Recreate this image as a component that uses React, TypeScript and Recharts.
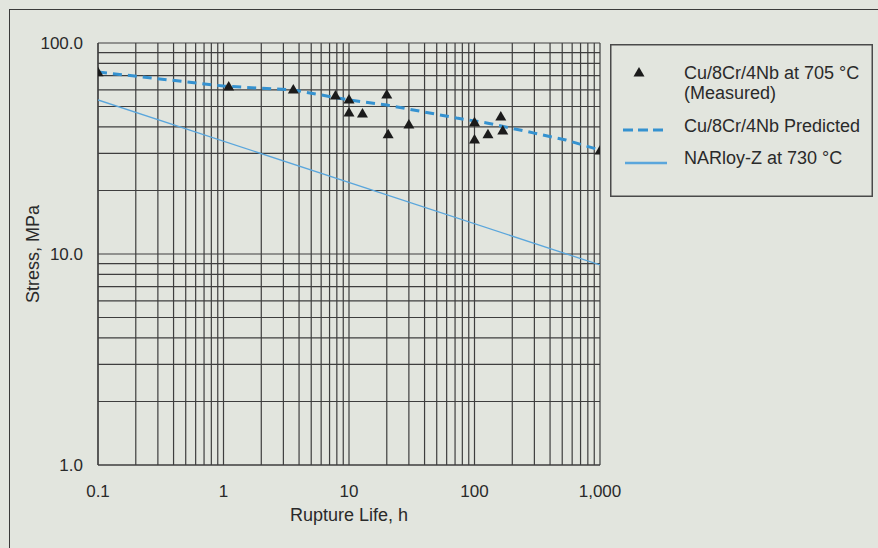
import React from 'react';
import { ScatterChart, Scatter, XAxis, YAxis, CartesianGrid } from 'recharts';

const measured = [
  { x: 0.1, y: 73 },
  { x: 1.1, y: 62.5 },
  { x: 3.6, y: 60.5 },
  { x: 7.8, y: 56.7 },
  { x: 10, y: 54.3 },
  { x: 10, y: 47.1 },
  { x: 12.8, y: 46.6 },
  { x: 20, y: 57.3 },
  { x: 20.5, y: 37.1 },
  { x: 30, y: 41.3 },
  { x: 100, y: 42.3 },
  { x: 100, y: 35.1 },
  { x: 128, y: 37.1 },
  { x: 162, y: 45.1 },
  { x: 168, y: 38.7 },
  { x: 1000, y: 31.1 },
];

const predicted = [
  { x: 0.1, y: 72.9 },
  { x: 1, y: 62.5 },
  { x: 3.6, y: 59.9 },
  { x: 10, y: 53.7 },
  { x: 20, y: 50.8 },
  { x: 30, y: 48.6 },
  { x: 72, y: 44.1 },
  { x: 125, y: 41.8 },
  { x: 300, y: 37.4 },
  { x: 535, y: 34.7 },
  { x: 1000, y: 31.1 },
];

const narloy = [
  { x: 0.1, y: 53.7 },
  { x: 1000, y: 8.87 },
];

const xTicks = [
  0.1, 0.2, 0.3, 0.4, 0.5, 0.6, 0.7, 0.8, 0.9,
  1, 2, 3, 4, 5, 6, 7, 8, 9,
  10, 20, 30, 40, 50, 60, 70, 80, 90,
  100, 200, 300, 400, 500, 600, 700, 800, 900,
  1000,
];
const xLabels: Record<string, string> = { '0.1': '0.1', '1': '1', '10': '10', '100': '100', '1000': '1,000' };

const yTicks = [1, 2, 3, 4, 5, 6, 7, 8, 9, 10, 20, 30, 40, 50, 60, 70, 80, 90, 100];
const yLabels: Record<string, string> = { '1': '1.0', '10': '10.0', '100': '100.0' };

const seriesNames = ['Cu/8Cr/4Nb at 705 °C', '(Measured)', 'Cu/8Cr/4Nb Predicted', 'NARloy-Z at 730 °C'];

const BG = '#e2e5de';
const GRID = '#3e3e3e';
const TEXT = '#2a2a2a';
const PRED = '#3592d0';
const NAR = '#5aa6dc';
const FONT = '"Liberation Sans", Arial, Helvetica, sans-serif';

const Triangle = (props: any) => {
  const { cx, cy } = props;
  if (cx == null || cy == null) return <g />;
  return <path d={`M${cx},${cy - 5} L${cx + 5.5},${cy + 4.5} L${cx - 5.5},${cy + 4.5} Z`} fill="#1b1b1b" />;
};

const NoShape = () => <g />;

const LegendBox = () => (
  <svg width={263} height={153} style={{ display: 'block' }}>
    <rect x={0.75} y={0.75} width={261.5} height={151.5} fill={BG} stroke="#4a4a4a" strokeWidth={1.5} />
    <path d="M29,23 L34.5,32.5 L23.5,32.5 Z" fill="#1b1b1b" />
    <text x={74} y={29} fontSize={18} fill={TEXT} fontFamily={FONT} dominantBaseline="central">{seriesNames[0]}</text>
    <text x={74} y={49} fontSize={18} fill={TEXT} fontFamily={FONT} dominantBaseline="central">{seriesNames[1]}</text>
    <line x1={13} x2={57} y1={86} y2={86} stroke={PRED} strokeWidth={3} strokeDasharray="10 5" />
    <text x={74} y={82} fontSize={18} fill={TEXT} fontFamily={FONT} dominantBaseline="central">{seriesNames[2]}</text>
    <line x1={15} x2={57} y1={119} y2={119} stroke={NAR} strokeWidth={2.5} />
    <text x={74} y={114} fontSize={18} fill={TEXT} fontFamily={FONT} dominantBaseline="central">{seriesNames[3]}</text>
  </svg>
);

export default function App() {
  return (
    <div style={{ position: 'absolute', left: 0, top: 0, width: 878, height: 548, overflow: 'hidden', background: BG, fontFamily: FONT }}>
      <div style={{ position: 'absolute', left: 9, top: 9, width: 900, height: 600, border: '1.5px solid #3a3a3a' }} />
      <div style={{ position: 'absolute', left: 0, top: 0 }}>
        <ScatterChart width={878} height={548} margin={{ top: 43, right: 278, bottom: 0, left: 0 }}>
          <CartesianGrid stroke={GRID} strokeWidth={1.2} />
          <XAxis
            type="number"
            dataKey="x"
            scale="log"
            domain={[0.1, 1000]}
            ticks={xTicks}
            interval={0}
            allowDataOverflow
            height={83}
            tickLine={false}
            tickSize={8}
            tickMargin={12}
            axisLine={{ stroke: GRID, strokeWidth: 1.2 }}
            tick={{ fill: TEXT, fontSize: 17, fontFamily: FONT }}
            tickFormatter={(v: number) => xLabels[String(v)] ?? ''}
            label={{ value: 'Rupture Life, h', position: 'insideTop', offset: 43, fill: TEXT, fontSize: 18, fontFamily: FONT }}
          />
          <YAxis
            type="number"
            dataKey="y"
            scale="log"
            domain={[1, 100]}
            ticks={yTicks}
            interval={0}
            allowDataOverflow
            width={98}
            tickLine={false}
            tickSize={8}
            tickMargin={7}
            axisLine={{ stroke: GRID, strokeWidth: 1.2 }}
            tick={{ fill: TEXT, fontSize: 17, fontFamily: FONT }}
            tickFormatter={(v: number) => yLabels[String(v)] ?? ''}
            label={{ value: 'Stress, MPa', angle: -90, position: 'insideLeft', offset: 33, fill: TEXT, fontSize: 18, fontFamily: FONT, style: { textAnchor: 'middle' } }}
          />
          <Scatter
            name="NARloy-Z at 730 °C"
            data={narloy}
            line={{ stroke: NAR, strokeWidth: 1.3 }}
            lineType="joint"
            shape={NoShape}
            fill={NAR}
            isAnimationActive={false}
          />
          <Scatter
            name="Cu/8Cr/4Nb Predicted"
            data={predicted}
            line={{ stroke: PRED, strokeWidth: 3, strokeDasharray: '9 6' }}
            lineType="joint"
            shape={NoShape}
            fill={PRED}
            isAnimationActive={false}
          />
          <Scatter
            name="Cu/8Cr/4Nb at 705 °C (Measured)"
            data={measured}
            shape={Triangle}
            fill="#1b1b1b"
            isAnimationActive={false}
          />
        </ScatterChart>
      </div>
      <div style={{ position: 'absolute', left: 610, top: 44 }}>
        <LegendBox />
      </div>
    </div>
  );
}
